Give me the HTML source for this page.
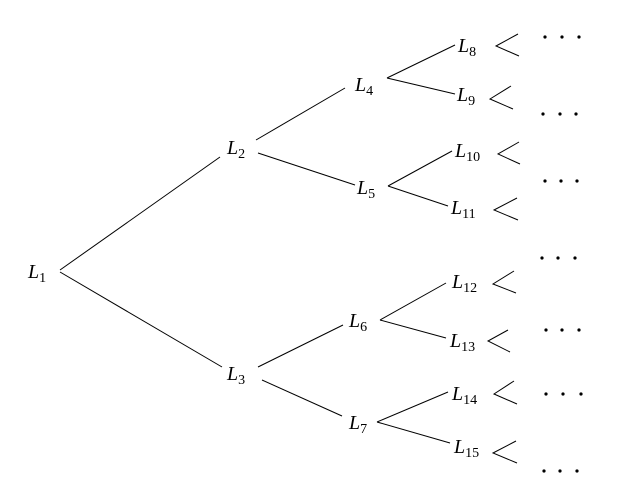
<!DOCTYPE html>
<html><head><meta charset="utf-8"><style>
html,body{margin:0;padding:0;background:#fff;}
svg{display:block;}
text{font-family:"Liberation Serif",serif;font-size:20px;fill:#000;}
.s{font-size:14px;font-style:normal;}
</style></head><body>
<svg width="626" height="501" viewBox="0 0 626 501" xmlns="http://www.w3.org/2000/svg">
<g stroke="#000" stroke-width="1" fill="none">
<line x1="60" y1="270" x2="220" y2="157"/>
<line x1="60" y1="272" x2="222" y2="367"/>
<line x1="256" y1="140" x2="345" y2="88"/>
<line x1="258" y1="153" x2="355" y2="185"/>
<line x1="387" y1="78" x2="455" y2="45"/>
<line x1="387" y1="78" x2="455" y2="94"/>
<line x1="388" y1="186" x2="452" y2="151"/>
<line x1="388" y1="186" x2="448" y2="206"/>
<line x1="258" y1="367" x2="343" y2="325"/>
<line x1="262" y1="380" x2="342" y2="416"/>
<line x1="380" y1="320" x2="446" y2="283"/>
<line x1="380" y1="320" x2="446" y2="338"/>
<line x1="377" y1="422" x2="448" y2="392"/>
<line x1="377" y1="422" x2="450" y2="443"/>
<polyline points="518,34 496,46 519,56"/>
<polyline points="511,86 490,99 513,109"/>
<polyline points="519,142 498,154 520,164"/>
<polyline points="517,198 494,210 518,220"/>
<polyline points="514,271 493,284 516,293"/>
<polyline points="508,330 488,341 510,352"/>
<polyline points="514,381 494,394 517,404"/>
<polyline points="516,441 493,453 517,463"/>
</g>
<g fill="#000">
<circle cx="545" cy="37" r="1.6"/><circle cx="562" cy="37" r="1.6"/><circle cx="579" cy="37" r="1.6"/>
<circle cx="543" cy="114" r="1.6"/><circle cx="560" cy="114" r="1.6"/><circle cx="576" cy="114" r="1.6"/>
<circle cx="545" cy="181" r="1.6"/><circle cx="561" cy="181" r="1.6"/><circle cx="577" cy="181" r="1.6"/>
<circle cx="542" cy="258" r="1.6"/><circle cx="558" cy="258" r="1.6"/><circle cx="575" cy="258" r="1.6"/>
<circle cx="546" cy="330" r="1.6"/><circle cx="562" cy="330" r="1.6"/><circle cx="579" cy="330" r="1.6"/>
<circle cx="546" cy="394" r="1.6"/><circle cx="563" cy="394" r="1.6"/><circle cx="581" cy="394" r="1.6"/>
<circle cx="544" cy="471" r="1.6"/><circle cx="560" cy="471" r="1.6"/><circle cx="577" cy="471" r="1.6"/>
</g>
<g font-style="italic">
<text x="28" y="278">L<tspan class="s" dy="4">1</tspan></text>
<text x="227" y="154">L<tspan class="s" dy="4">2</tspan></text>
<text x="227" y="380">L<tspan class="s" dy="4">3</tspan></text>
<text x="355" y="91">L<tspan class="s" dy="4">4</tspan></text>
<text x="357" y="194">L<tspan class="s" dy="4">5</tspan></text>
<text x="349" y="327">L<tspan class="s" dy="4">6</tspan></text>
<text x="349" y="429">L<tspan class="s" dy="4">7</tspan></text>
<text x="458" y="52">L<tspan class="s" dy="4">8</tspan></text>
<text x="457" y="101">L<tspan class="s" dy="4">9</tspan></text>
<text x="455" y="157">L<tspan class="s" dy="4">10</tspan></text>
<text x="451" y="214">L<tspan class="s" dy="4">11</tspan></text>
<text x="452" y="288">L<tspan class="s" dy="4">12</tspan></text>
<text x="450" y="347">L<tspan class="s" dy="4">13</tspan></text>
<text x="452" y="400">L<tspan class="s" dy="4">14</tspan></text>
<text x="454" y="453">L<tspan class="s" dy="4">15</tspan></text>
</g>
</svg>
</body></html>
